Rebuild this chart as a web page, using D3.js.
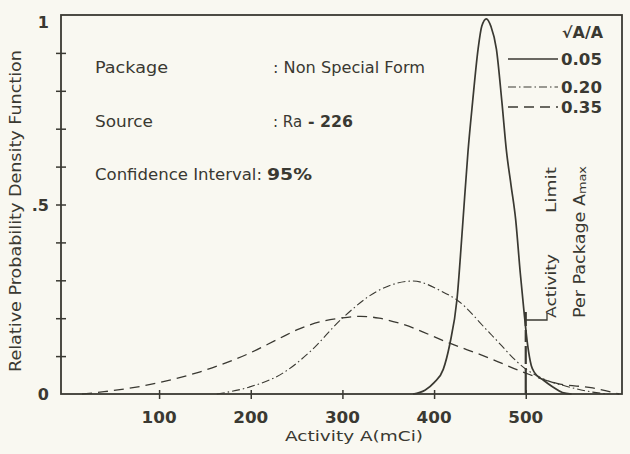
<!DOCTYPE html>
<html>
<head>
<meta charset="utf-8">
<script src="https://cdn.jsdelivr.net/npm/d3@7"></script>
<style>
    body { margin: 0; background: #f9f8f1; }
    svg { display: block; font-family: "DejaVu Sans", sans-serif; }
    text { fill: #3a3932; }
</style>
</head>
<body>
<svg id="chart" width="630" height="454"></svg>
<script>
// Values: activity A (mCi) vs relative density.
const activity005 = [377, 390, 400, 410, 417, 425, 431, 437, 442, 448, 452, 457, 462, 468, 474, 479, 484, 489, 494, 498, 502, 506, 510, 519, 530, 540, 550];
const density005  = [0, 0.01, 0.03, 0.065, 0.13, 0.25, 0.44, 0.64, 0.77, 0.91, 0.97, 0.99, 0.97, 0.91, 0.77, 0.64, 0.55, 0.46, 0.32, 0.22, 0.13, 0.075, 0.055, 0.037, 0.018, 0.004, 0];

const activity020 = [163, 198, 235, 264, 300, 337, 377, 409, 425, 461, 500, 519, 545, 573, 590];
const density020  = [0, 0.018, 0.055, 0.11, 0.2, 0.27, 0.298, 0.27, 0.248, 0.16, 0.066, 0.04, 0.02, 0.005, 0];

const activity035 = [16, 40, 100, 144, 198, 230, 253, 280, 300, 320, 340, 362, 417, 460, 500, 534, 573, 602];
const density035  = [0, 0.006, 0.03, 0.058, 0.107, 0.145, 0.172, 0.193, 0.201, 0.205, 0.2, 0.187, 0.134, 0.095, 0.055, 0.028, 0.016, 0];

const xTickValues = [100, 200, 300, 400, 500];
const yTickValues = [0.1, 0.2, 0.3, 0.4, 0.5, 0.6, 0.7, 0.8, 0.9];
const yTickLabels = [[0, "0"], [0.5, ".5"], [1, "1"]];
const legendLabels = ["0.05", "0.20", "0.35"];
const activityLimit = 500;

const ink = "#3a3932";
const svg = d3.select("#chart");

const xScale = d3.scaleLinear().domain([-7, 605]).range([61, 622]);
const yScale = d3.scaleLinear().domain([0, 1]).range([394, 15]);

// frame
svg.append("rect")
    .attr("x", xScale(-7))
    .attr("y", yScale(1))
    .attr("width", xScale(605) - xScale(-7))
    .attr("height", yScale(0) - yScale(1))
    .attr("fill", "none")
    .attr("stroke", ink)
    .attr("stroke-width", 1.8);

// left ticks cross the axis
const yAxis = svg.append("g")
    .attr("transform", `translate(${xScale(-7)},0)`)
    .call(d3.axisLeft(yScale).tickValues(yTickValues).tickSize(5).tickFormat(""));
yAxis.select(".domain").remove();
yAxis.selectAll(".tick line").attr("x1", 5).attr("stroke", ink).attr("stroke-width", 1.5);

const xAxis = svg.append("g")
    .attr("transform", `translate(0,${yScale(0)})`)
    .call(d3.axisBottom(xScale).tickValues(xTickValues).tickSize(5).tickFormat(""));
xAxis.select(".domain").remove();
xAxis.selectAll(".tick line").attr("y1", -4).attr("stroke", ink).attr("stroke-width", 1.5);

// tick labels
svg.append("g").selectAll("text")
    .data(xTickValues)
    .enter()
    .append("text")
    .attr("x", d => xScale(d))
    .attr("y", 423)
    .attr("text-anchor", "middle")
    .attr("font-size", 15)
    .attr("font-weight", "bold")
    .attr("textLength", 35)
    .attr("lengthAdjust", "spacingAndGlyphs")
    .text(d => d);

svg.append("g").selectAll("text")
    .data(yTickLabels)
    .enter()
    .append("text")
    .attr("x", 49)
    .attr("y", d => d[0] == 1 ? 28 : yScale(d[0]) + 6)
    .attr("text-anchor", "end")
    .attr("font-size", 16)
    .attr("font-weight", "bold")
    .text(d => d[1]);

// axis titles
svg.append("text")
    .attr("x", 285)
    .attr("y", 441)
    .attr("font-size", 14)
    .attr("textLength", 138)
    .attr("lengthAdjust", "spacingAndGlyphs")
    .text("Activity  A(mCi)");

svg.append("text")
    .attr("transform", "translate(21,372) rotate(-90)")
    .attr("font-size", 15)
    .attr("textLength", 322)
    .attr("lengthAdjust", "spacingAndGlyphs")
    .text("Relative  Probability  Density  Function");

// curves
const line = d3.line()
    .x(d => xScale(d[0]))
    .y(d => yScale(d[1]))
    .curve(d3.curveMonotoneX);

const series = [
    { pts: d3.zip(activity005, density005), dash: null, width: 1.7 },
    { pts: d3.zip(activity020, density020), dash: "8,3,1.5,3", width: 1.1 },
    { pts: d3.zip(activity035, density035), dash: "10,6", width: 1.3 }
];

svg.append("g").selectAll("path")
    .data(series)
    .enter()
    .append("path")
    .attr("d", d => line(d.pts))
    .attr("fill", "none")
    .attr("stroke", ink)
    .attr("stroke-width", d => d.width)
    .attr("stroke-dasharray", d => d.dash);

// activity limit marker
svg.append("line")
    .attr("x1", xScale(activityLimit)).attr("x2", xScale(activityLimit))
    .attr("y1", yScale(0)).attr("y2", 312)
    .attr("stroke", ink)
    .attr("stroke-width", 2.2)
    .attr("stroke-dasharray", "26,4,18,4,12,4");

svg.append("path")
    .attr("d", `M${xScale(activityLimit)},320 H547 V313`)
    .attr("fill", "none")
    .attr("stroke", ink)
    .attr("stroke-width", 1.3);

svg.append("text")
    .attr("transform", "translate(556,318) rotate(-90)")
    .attr("font-size", 14)
    .attr("textLength", 64)
    .attr("lengthAdjust", "spacingAndGlyphs")
    .text("Activity");

svg.append("text")
    .attr("transform", "translate(556,213) rotate(-90)")
    .attr("font-size", 14)
    .attr("textLength", 46)
    .attr("lengthAdjust", "spacingAndGlyphs")
    .text("Limit");

const perPackage = svg.append("text")
    .attr("transform", "translate(585,318) rotate(-90)")
    .attr("font-size", 15)
    .attr("textLength", 152)
    .attr("lengthAdjust", "spacingAndGlyphs");
perPackage.append("tspan").text("Per Package A");
perPackage.append("tspan").attr("font-size", 11).attr("dy", 1).text("max");

// info block
const info = svg.append("g").attr("font-size", 15);
info.append("text").attr("x", 95).attr("y", 73).attr("textLength", 73).attr("lengthAdjust", "spacingAndGlyphs").text("Package");
info.append("text").attr("x", 273).attr("y", 73).attr("textLength", 152).attr("lengthAdjust", "spacingAndGlyphs").text(": Non Special Form");
info.append("text").attr("x", 95).attr("y", 127).attr("textLength", 58).attr("lengthAdjust", "spacingAndGlyphs").text("Source");
info.append("text").attr("x", 273).attr("y", 127).text(": Ra");
info.append("text").attr("x", 308).attr("y", 127).attr("font-weight", "bold").attr("textLength", 45).attr("lengthAdjust", "spacingAndGlyphs").text("- 226");
info.append("text").attr("x", 95).attr("y", 180).attr("textLength", 167).attr("lengthAdjust", "spacingAndGlyphs").text("Confidence  Interval:");
info.append("text").attr("x", 267).attr("y", 180).attr("font-weight", "bold").attr("textLength", 45).attr("lengthAdjust", "spacingAndGlyphs").text("95%");

// legend
const legend = svg.append("g").attr("font-size", 15).attr("font-weight", "bold");
legend.append("text").attr("x", 562).attr("y", 38).attr("textLength", 41).attr("lengthAdjust", "spacingAndGlyphs").text("√A/A");

const legendRows = [59, 87, 107];
series.forEach((s, i) => {
    legend.append("line")
        .attr("x1", 508).attr("x2", 558)
        .attr("y1", legendRows[i]).attr("y2", legendRows[i])
        .attr("stroke", ink)
        .attr("stroke-width", s.width)
        .attr("stroke-dasharray", s.dash);
    legend.append("text")
        .attr("x", 561)
        .attr("y", legendRows[i] + 6)
        .attr("textLength", 41)
        .attr("lengthAdjust", "spacingAndGlyphs")
        .text(legendLabels[i]);
});
</script>
</body>
</html>
